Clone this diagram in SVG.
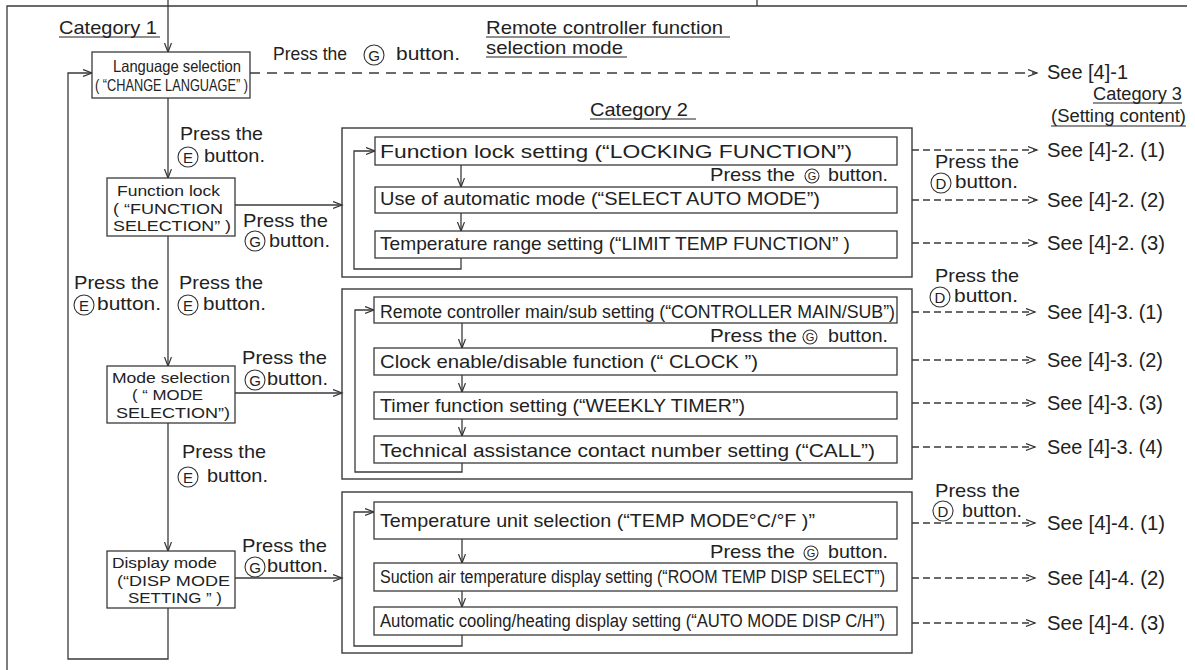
<svg xmlns="http://www.w3.org/2000/svg" width="1195" height="670" viewBox="0 0 1195 670">
<defs>
<marker id="ah" markerWidth="11" markerHeight="9" refX="9" refY="4" orient="auto" markerUnits="userSpaceOnUse"><path d="M0,0.5 L9,4 L0,7.5" fill="none" stroke="#333" stroke-width="1.2"/></marker>
</defs>
<style>
text{font-family:"Liberation Sans",Arial,Helvetica,sans-serif;fill:#222}
.f19{font-size:19px}
.f20{font-size:19.5px}
.f18{font-size:18px}
.f16{font-size:16.5px}
.f15{font-size:15.5px}
.bl{font-size:15px;text-anchor:middle}
.sl{font-size:11px;text-anchor:middle}
.ln{fill:none;stroke:#3a3a3a;stroke-width:1.3}
.box{fill:#fff;stroke:#3a3a3a;stroke-width:1.3}
.grp{fill:none;stroke:#3a3a3a;stroke-width:1.4}
.ld{stroke-dasharray:10 7}
.sd{stroke-dasharray:7 4}
.bc{fill:none;stroke:#333;stroke-width:1.1}
.ul{stroke:#222;stroke-width:1.2}
</style>
<rect width="1195" height="670" fill="#fff"/>

<g id="frame">
<path class="ln" d="M7,670 V6 H1187"/>
<path class="ln" d="M757,0 V6"/>
</g>

<g id="headings">
<text class="f19" x="59" y="34" textLength="98" lengthAdjust="spacingAndGlyphs">Category 1</text>
<line class="ul" x1="59" y1="37" x2="160" y2="37"/>
<text class="f19" x="486" y="34" textLength="237" lengthAdjust="spacingAndGlyphs">Remote controller function</text>
<line class="ul" x1="486" y1="37" x2="730" y2="37"/>
<text class="f19" x="486" y="54" textLength="137" lengthAdjust="spacingAndGlyphs">selection mode</text>
<line class="ul" x1="486" y1="57" x2="627" y2="57"/>
<text class="f19" x="590" y="116" textLength="98" lengthAdjust="spacingAndGlyphs">Category 2</text>
<line class="ul" x1="590" y1="119" x2="696" y2="119"/>
<text class="f18" x="1093" y="100" textLength="89" lengthAdjust="spacingAndGlyphs">Category 3</text>
<line class="ul" x1="1093" y1="103" x2="1182" y2="103"/>
<text class="f18" x="1051" y="122" textLength="135" lengthAdjust="spacingAndGlyphs">(Setting content)</text>
<line class="ul" x1="1051" y1="126" x2="1186" y2="126"/>
</g>

<g id="connectors">
<path class="ln" d="M168,0 V52" marker-end="url(#ah)"/>
<path class="ln" d="M168,98 V178" marker-end="url(#ah)"/>
<path class="ln" d="M168,236 V366" marker-end="url(#ah)"/>
<path class="ln" d="M168,423 V551" marker-end="url(#ah)"/>
<path class="ln" d="M168,608 V659 H68 V73 H92" marker-end="url(#ah)"/>
<path class="ln" d="M235,205 H342" marker-end="url(#ah)"/>
<path class="ln" d="M235,393 H342" marker-end="url(#ah)"/>
<path class="ln" d="M235,578 H342" marker-end="url(#ah)"/>
<path class="ln ld" d="M250,73 H1037" marker-end="url(#ah)"/>
<path class="ln" d="M461,165 V187" marker-end="url(#ah)"/>
<path class="ln" d="M461,213 V231" marker-end="url(#ah)"/>
<path class="ln" d="M461,258 V269 H354 V151 H375" marker-end="url(#ah)"/>
<path class="ln" d="M462,323 V348" marker-end="url(#ah)"/>
<path class="ln" d="M462,375 V392" marker-end="url(#ah)"/>
<path class="ln" d="M462,419 V436" marker-end="url(#ah)"/>
<path class="ln" d="M462,463 V472 H355 V310 H374" marker-end="url(#ah)"/>
<path class="ln" d="M462,539 V563" marker-end="url(#ah)"/>
<path class="ln" d="M462,591 V607" marker-end="url(#ah)"/>
<path class="ln" d="M462,635 V646 H354 V512 H374" marker-end="url(#ah)"/>
<path class="ln sd" d="M912,150 H1037" marker-end="url(#ah)"/>
<path class="ln sd" d="M912,200 H1037" marker-end="url(#ah)"/>
<path class="ln sd" d="M912,243 H1037" marker-end="url(#ah)"/>
<path class="ln sd" d="M912,312 H1035" marker-end="url(#ah)"/>
<path class="ln sd" d="M912,360 H1035" marker-end="url(#ah)"/>
<path class="ln sd" d="M912,403 H1035" marker-end="url(#ah)"/>
<path class="ln sd" d="M912,447 H1035" marker-end="url(#ah)"/>
<path class="ln sd" d="M912,523 H1035" marker-end="url(#ah)"/>
<path class="ln sd" d="M912,578 H1035" marker-end="url(#ah)"/>
<path class="ln sd" d="M912,623 H1035" marker-end="url(#ah)"/>
</g>

<g id="labels">
<text class="f19" x="273" y="60" textLength="74" lengthAdjust="spacingAndGlyphs">Press the</text>
<circle class="bc" cx="374" cy="55" r="10"/><text class="bl" x="374" y="60.5">G</text>
<text class="f19" x="396" y="60" textLength="64" lengthAdjust="spacingAndGlyphs">button.</text>
<text class="f20" x="1047" y="79" textLength="81" lengthAdjust="spacingAndGlyphs">See [4]-1</text>

<text class="f19" x="180" y="140" textLength="83" lengthAdjust="spacingAndGlyphs">Press the</text>
<circle class="bc" cx="188" cy="157" r="10"/><text class="bl" x="188" y="162.5">E</text>
<text class="f19" x="204" y="162" textLength="61" lengthAdjust="spacingAndGlyphs">button.</text>

<text class="f19" x="243" y="227" textLength="85" lengthAdjust="spacingAndGlyphs">Press the</text>
<circle class="bc" cx="255" cy="241" r="10"/><text class="bl" x="255" y="246.5">G</text>
<text class="f19" x="269" y="247" textLength="61" lengthAdjust="spacingAndGlyphs">button.</text>

<text class="f19" x="74" y="289" textLength="85" lengthAdjust="spacingAndGlyphs">Press the</text>
<circle class="bc" cx="84" cy="305" r="10"/><text class="bl" x="84" y="310.5">E</text>
<text class="f19" x="97" y="310" textLength="64" lengthAdjust="spacingAndGlyphs">button.</text>
<text class="f19" x="179" y="289" textLength="84" lengthAdjust="spacingAndGlyphs">Press the</text>
<circle class="bc" cx="188" cy="305" r="10"/><text class="bl" x="188" y="310.5">E</text>
<text class="f19" x="203" y="310" textLength="63" lengthAdjust="spacingAndGlyphs">button.</text>

<text class="f19" x="242" y="364" textLength="85" lengthAdjust="spacingAndGlyphs">Press the</text>
<circle class="bc" cx="255" cy="380" r="10"/><text class="bl" x="255" y="385.5">G</text>
<text class="f19" x="267" y="385" textLength="61" lengthAdjust="spacingAndGlyphs">button.</text>

<text class="f19" x="182" y="458" textLength="84" lengthAdjust="spacingAndGlyphs">Press the</text>
<circle class="bc" cx="188" cy="477" r="10"/><text class="bl" x="188" y="482.5">E</text>
<text class="f19" x="207" y="482" textLength="61" lengthAdjust="spacingAndGlyphs">button.</text>

<text class="f19" x="242" y="552" textLength="85" lengthAdjust="spacingAndGlyphs">Press the</text>
<circle class="bc" cx="255" cy="567" r="10"/><text class="bl" x="255" y="572.5">G</text>
<text class="f19" x="267" y="572" textLength="61" lengthAdjust="spacingAndGlyphs">button.</text>

<text class="f19" x="935" y="168" textLength="84" lengthAdjust="spacingAndGlyphs">Press the</text>
<circle class="bc" cx="941" cy="183" r="10"/><text class="bl" x="941" y="188.5">D</text>
<text class="f19" x="955" y="188" textLength="63" lengthAdjust="spacingAndGlyphs">button.</text>

<text class="f19" x="935" y="282" textLength="84" lengthAdjust="spacingAndGlyphs">Press the</text>
<circle class="bc" cx="940" cy="297" r="10"/><text class="bl" x="940" y="302.5">D</text>
<text class="f19" x="954" y="302" textLength="64" lengthAdjust="spacingAndGlyphs">button.</text>

<text class="f19" x="935" y="497" textLength="85" lengthAdjust="spacingAndGlyphs">Press the</text>
<circle class="bc" cx="943" cy="511" r="10"/><text class="bl" x="943" y="516.5">D</text>
<text class="f19" x="962" y="517" textLength="60" lengthAdjust="spacingAndGlyphs">button.</text>

<text class="f20" x="1047" y="157" textLength="118" lengthAdjust="spacingAndGlyphs">See [4]-2. (1)</text>
<text class="f20" x="1047" y="207" textLength="118" lengthAdjust="spacingAndGlyphs">See [4]-2. (2)</text>
<text class="f20" x="1047" y="250" textLength="118" lengthAdjust="spacingAndGlyphs">See [4]-2. (3)</text>
<text class="f20" x="1047" y="319" textLength="116" lengthAdjust="spacingAndGlyphs">See [4]-3. (1)</text>
<text class="f20" x="1047" y="367" textLength="116" lengthAdjust="spacingAndGlyphs">See [4]-3. (2)</text>
<text class="f20" x="1047" y="410" textLength="116" lengthAdjust="spacingAndGlyphs">See [4]-3. (3)</text>
<text class="f20" x="1047" y="454" textLength="116" lengthAdjust="spacingAndGlyphs">See [4]-3. (4)</text>
<text class="f20" x="1047" y="530" textLength="118" lengthAdjust="spacingAndGlyphs">See [4]-4. (1)</text>
<text class="f20" x="1047" y="585" textLength="118" lengthAdjust="spacingAndGlyphs">See [4]-4. (2)</text>
<text class="f20" x="1047" y="630" textLength="118" lengthAdjust="spacingAndGlyphs">See [4]-4. (3)</text>
</g>

<g id="node-language">
<rect class="box" x="92" y="52" width="158" height="46"/>
<text class="f16" x="113" y="72" textLength="128" lengthAdjust="spacingAndGlyphs">Language selection</text>
<text class="f16" x="95" y="91" textLength="153" lengthAdjust="spacingAndGlyphs">( “CHANGE LANGUAGE” )</text>
</g>

<g id="node-function-lock">
<rect class="box" x="107" y="178" width="128" height="58"/>
<text class="f15" x="117" y="196" textLength="103" lengthAdjust="spacingAndGlyphs">Function lock</text>
<text class="f15" x="113" y="214" textLength="110" lengthAdjust="spacingAndGlyphs">( “FUNCTION</text>
<text class="f15" x="113" y="231" textLength="118" lengthAdjust="spacingAndGlyphs">SELECTION” )</text>
</g>

<g id="node-mode-selection">
<rect class="box" x="107" y="366" width="128" height="57"/>
<text class="f15" x="112" y="383" textLength="118" lengthAdjust="spacingAndGlyphs">Mode selection</text>
<text class="f15" x="132" y="400" textLength="71" lengthAdjust="spacingAndGlyphs">( “ MODE</text>
<text class="f15" x="116" y="418" textLength="114" lengthAdjust="spacingAndGlyphs">SELECTION”)</text>
</g>

<g id="node-display-mode">
<rect class="box" x="107" y="551" width="128" height="57"/>
<text class="f15" x="112" y="568" textLength="105" lengthAdjust="spacingAndGlyphs">Display mode</text>
<text class="f15" x="117" y="586" textLength="113" lengthAdjust="spacingAndGlyphs">(“DISP MODE</text>
<text class="f15" x="128" y="603" textLength="94" lengthAdjust="spacingAndGlyphs">SETTING ” )</text>
</g>

<g id="group-function-lock">
<rect class="grp" x="342" y="128" width="570" height="149"/>
<rect class="box" x="375" y="137" width="522" height="28"/>
<text class="f19" x="380" y="158" textLength="472" lengthAdjust="spacingAndGlyphs">Function lock setting (“LOCKING FUNCTION”)</text>
<text class="f19" x="710" y="181" textLength="85" lengthAdjust="spacingAndGlyphs">Press the</text>
<circle class="bc" cx="812" cy="176" r="7"/><text class="sl" x="812" y="180">G</text>
<text class="f19" x="828" y="181" textLength="60" lengthAdjust="spacingAndGlyphs">button.</text>
<rect class="box" x="375" y="187" width="522" height="26"/>
<text class="f19" x="380" y="205" textLength="440" lengthAdjust="spacingAndGlyphs">Use of automatic mode (“SELECT AUTO MODE”)</text>
<rect class="box" x="375" y="231" width="522" height="27"/>
<text class="f19" x="380" y="250" textLength="470" lengthAdjust="spacingAndGlyphs">Temperature range setting (“LIMIT TEMP FUNCTION” )</text>
</g>

<g id="group-mode-selection">
<rect class="grp" x="342" y="289" width="570" height="190"/>
<rect class="box" x="374" y="297" width="523" height="26"/>
<text class="f18" x="380" y="318" textLength="515" lengthAdjust="spacingAndGlyphs">Remote controller main/sub setting (“CONTROLLER MAIN/SUB”)</text>
<text class="f19" x="710" y="342" textLength="87" lengthAdjust="spacingAndGlyphs">Press the</text>
<circle class="bc" cx="810" cy="337" r="7"/><text class="sl" x="810" y="341">G</text>
<text class="f19" x="828" y="342" textLength="60" lengthAdjust="spacingAndGlyphs">button.</text>
<rect class="box" x="374" y="348" width="523" height="27"/>
<text class="f19" x="380" y="368" textLength="378" lengthAdjust="spacingAndGlyphs">Clock enable/disable function (“ CLOCK ”)</text>
<rect class="box" x="374" y="392" width="523" height="27"/>
<text class="f19" x="380" y="412" textLength="365" lengthAdjust="spacingAndGlyphs">Timer function setting (“WEEKLY TIMER”)</text>
<rect class="box" x="374" y="436" width="523" height="27"/>
<text class="f19" x="380" y="457" textLength="495" lengthAdjust="spacingAndGlyphs">Technical assistance contact number setting (“CALL”)</text>
</g>

<g id="group-display-mode">
<rect class="grp" x="342" y="492" width="570" height="161"/>
<rect class="box" x="374" y="502" width="523" height="37"/>
<text class="f19" x="380" y="527" textLength="435" lengthAdjust="spacingAndGlyphs">Temperature unit selection (“TEMP MODE°C/°F  )”</text>
<text class="f19" x="710" y="558" textLength="85" lengthAdjust="spacingAndGlyphs">Press the</text>
<circle class="bc" cx="811" cy="553" r="7"/><text class="sl" x="811" y="557">G</text>
<text class="f19" x="828" y="558" textLength="60" lengthAdjust="spacingAndGlyphs">button.</text>
<rect class="box" x="374" y="563" width="523" height="28"/>
<text class="f18" x="380" y="583" textLength="505" lengthAdjust="spacingAndGlyphs">Suction air temperature display setting (“ROOM TEMP DISP SELECT”)</text>
<rect class="box" x="374" y="607" width="523" height="28"/>
<text class="f18" x="380" y="627" textLength="505" lengthAdjust="spacingAndGlyphs">Automatic cooling/heating display setting (“AUTO MODE DISP C/H”)</text>
</g>
</svg>
